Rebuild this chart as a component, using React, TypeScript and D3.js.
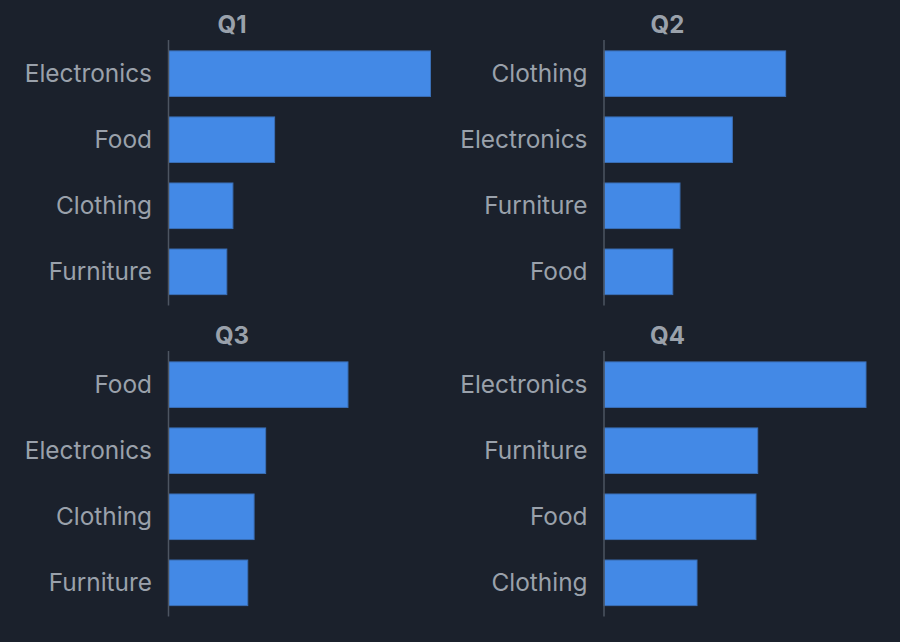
import React from "react";
import * as d3 from "d3";

const quarters = ["Q1", "Q2", "Q3", "Q4"];
const q1Categories = ["Electronics", "Food", "Clothing", "Furniture"];
const q1Values = [120, 48.6, 29.5, 26.7];
const q2Categories = ["Clothing", "Electronics", "Furniture", "Food"];
const q2Values = [83.2, 58.8, 34.8, 31.5];
const q3Categories = ["Food", "Electronics", "Clothing", "Furniture"];
const q3Values = [82.2, 44.5, 39.2, 36.3];
const q4Categories = ["Electronics", "Furniture", "Food", "Clothing"];
const q4Values = [120, 70.4, 69.6, 42.6];

const W = 900;
const H = 642;
const BG = "#1b212c";
const BAR = "#4389e6";
const BAR_STROKE = "#3a6fb6";
const AXIS = "#4d5561";
const TEXT = "#9aa1ab";
const FONT = "Inter, 'Noto Sans', sans-serif";

const panels = [
  { title: quarters[0], cats: q1Categories, vals: q1Values, x0: 168.5, y0: 40 },
  { title: quarters[1], cats: q2Categories, vals: q2Values, x0: 604, y0: 40 },
  { title: quarters[2], cats: q3Categories, vals: q3Values, x0: 168.5, y0: 351 },
  { title: quarters[3], cats: q4Categories, vals: q4Values, x0: 604, y0: 351 },
];

const plotW = 262;
const plotH = 265.5;

export default function App() {
  const maxV = d3.max([...q1Values, ...q2Values, ...q3Values, ...q4Values]) as number;
  const x = d3.scaleLinear().domain([0, maxV]).range([0, plotW]);
  return (
    <>
      <style>{`body{margin:0;background:${BG};}`}</style>
      <svg width={W} height={H} style={{ display: "block", background: BG }}>
        <rect x={0} y={0} width={W} height={H} fill={BG} />
        {panels.map((p) => {
          const y = d3
            .scaleBand<string>()
            .domain(p.cats)
            .range([p.y0, p.y0 + plotH])
            .paddingInner(0.31)
            .paddingOuter(0.165);
          return (
            <g key={p.title}>
              <text
                x={p.x0 + 63.5}
                y={p.y0 - 7}
                textAnchor="middle"
                fill={TEXT}
                fontFamily={FONT}
                fontWeight={700}
                fontSize={24}
              >
                {p.title}
              </text>
              {p.cats.map((c, i) => (
                <g key={c}>
                  <rect
                    x={p.x0}
                    y={y(c) as number}
                    width={x(p.vals[i])}
                    height={y.bandwidth()}
                    fill={BAR}
                    stroke={BAR_STROKE}
                    strokeWidth={1}
                  />
                  <text
                    x={p.x0 - 16.5}
                    y={(y(c) as number) + y.bandwidth() / 2}
                    dy="0.35em"
                    textAnchor="end"
                    fill={TEXT}
                    fontFamily={FONT}
                    fontSize={24.4}
                  >
                    {c}
                  </text>
                </g>
              ))}
              <line
                x1={p.x0}
                x2={p.x0}
                y1={p.y0}
                y2={p.y0 + plotH}
                stroke={AXIS}
                strokeWidth={1.5}
              />
            </g>
          );
        })}
      </svg>
    </>
  );
}
